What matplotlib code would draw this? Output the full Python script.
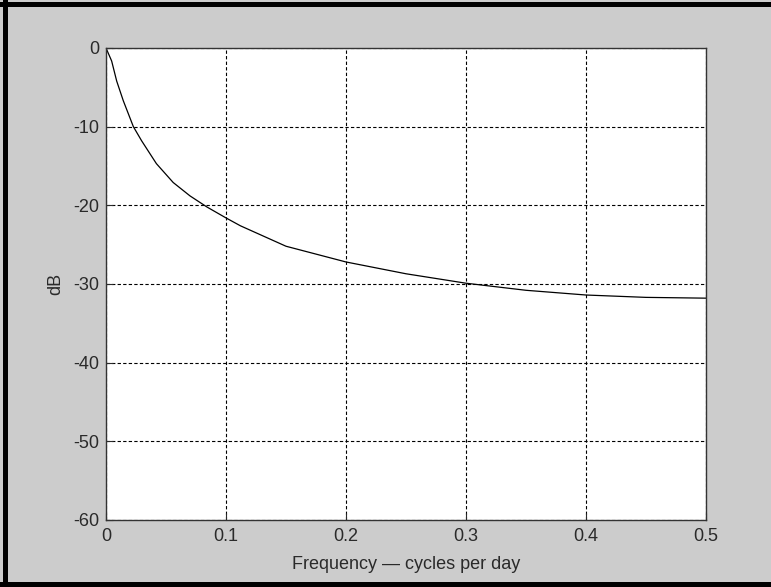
import matplotlib
matplotlib.use("Agg")
import matplotlib.pyplot as plt
from matplotlib.patches import Rectangle

plt.rcParams['font.family'] = ['Liberation Sans', 'DejaVu Sans']
plt.rcParams['axes.unicode_minus'] = False

# response
freq = [0, 0.0047, 0.0089, 0.0144, 0.0228, 0.0297, 0.042, 0.056, 0.07, 0.084,
        0.1, 0.112, 0.15, 0.2, 0.25, 0.3, 0.35, 0.4, 0.45, 0.5]
gain_db = [0, -1.65, -4.2, -6.7, -10.0, -11.8, -14.7, -17.1, -18.8, -20.2,
           -21.6, -22.6, -25.2, -27.2, -28.7, -29.9, -30.8, -31.4, -31.7, -31.8]

xticks = [0, 0.1, 0.2, 0.3, 0.4, 0.5]
yticks = [0, -10, -20, -30, -40, -50, -60]

fig = plt.figure(figsize=(7.71, 5.87), dpi=100, facecolor='#cccccc')
W, H = 771, 587

# black frame on top, left and bottom
fig.patches.append(Rectangle((3 / W, 0), 5 / W, 1, transform=fig.transFigure,
                             facecolor='black', edgecolor='none'))
fig.patches.append(Rectangle((0, 1 - 7 / H), 1, 5 / H, transform=fig.transFigure,
                             facecolor='black', edgecolor='none'))
fig.patches.append(Rectangle((0, 0), 1, 5 / H, transform=fig.transFigure,
                             facecolor='black', edgecolor='none'))

ax = fig.add_axes([106 / W, 1 - 520 / H, 600 / W, 472 / H])
ax.set_facecolor('white')
ax.plot(freq, gain_db, color='black', linewidth=0.9)

ax.set_xlim(0, 0.5)
ax.set_ylim(-60, 0)
ax.set_xticks(xticks)
ax.set_xticklabels(['0', '0.1', '0.2', '0.3', '0.4', '0.5'])
ax.set_yticks(yticks)
ax.tick_params(direction='in', length=5, labelsize=13, colors='#2a2a2a')
ax.tick_params(axis='x', pad=6)
ax.tick_params(axis='y', pad=5)
ax.grid(True, color='black', linestyle=(0, (3, 2)), linewidth=0.8)
for s in ax.spines.values():
    s.set_color('#333333')
    s.set_linewidth(1.0)

ax.set_xlabel('Frequency \u2014 cycles per day', fontsize=13, color='#2a2a2a',
              labelpad=8)
ax.set_ylabel('dB', fontsize=13, color='#2a2a2a', labelpad=6)

fig.savefig('out.png', dpi=100, facecolor=fig.get_facecolor())
